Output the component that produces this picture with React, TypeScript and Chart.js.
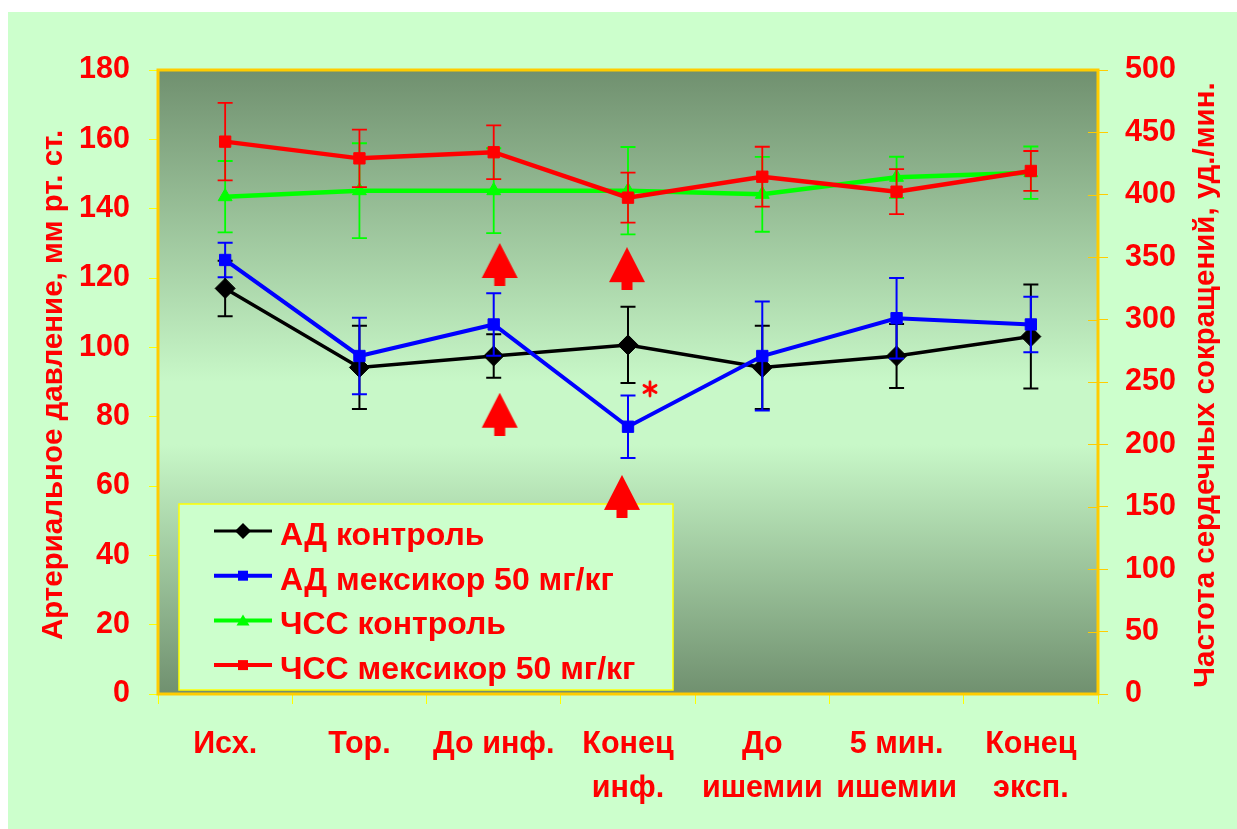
import React, { useEffect, useRef } from 'react';
import { Chart, registerables } from 'chart.js';

Chart.register(...registerables);

// ---------- data ----------
const categories: (string | string[])[] = [
  'Исх.',
  'Тор.',
  'До инф.',
  ['Конец', 'инф.'],
  ['До', 'ишемии'],
  ['5 мин.', 'ишемии'],
  ['Конец', 'эксп.'],
];

const seriesNames = [
  'АД контроль',
  'АД мексикор 50 мг/кг',
  'ЧСС контроль',
  'ЧСС мексикор 50 мг/кг',
];

// АД (left axis, мм рт. ст.)
const adControl = [117, 94.2, 97.5, 100.7, 94.2, 97.5, 103.1];
const adControlErr = [8, 12, 6.3, 11, 12, 9.2, 15];
const adMexicor = [125.2, 97.5, 106.6, 77.1, 97.5, 108.4, 106.6];
const adMexicorErr = [5, 11, 9, 9, 15.7, 11.6, 8];

// ЧСС (right axis, уд./мин.)
const hrControl = [398.5, 403.3, 403.3, 403.3, 400.4, 414, 417.7];
const hrControlErr = [28.6, 38, 34, 35, 30, 16.5, 21];
const hrMexicor = [442.6, 429.2, 434.1, 397.7, 414.5, 402.5, 419.1];
const hrMexicorErr = [31, 23, 21.5, 20, 24, 18, 16];

// significance markers (left-axis values)
const arrowsUpper = [null, null, 123.9, 122.7, null, null, null];
const arrowsLower = [null, null, 80.7, 57.0, null, null, null];
const asteriskMarks = [null, null, null, 88.0, null, null, null];

const leftTicksMax = 180;
const leftTicksStep = 20;
const rightTicksMax = 500;
const rightTicksStep = 50;

const leftTitle = 'Артериальное давление, мм рт. ст.';
const rightTitle = 'Частота сердечных сокращений, уд./мин.';

const FONT = '"Liberation Sans", Arial, sans-serif';
const RED = '#ff0000';

// ---------- marker images ----------
function makeArrow(dx: number): HTMLCanvasElement {
  const c = document.createElement('canvas');
  c.width = 40 + 2 * Math.abs(dx);
  c.height = 43;
  const ctx = c.getContext('2d')!;
  const cx = c.width / 2 + dx;
  ctx.fillStyle = RED;
  ctx.beginPath();
  ctx.moveTo(cx, 0);
  ctx.lineTo(cx + 18, 35);
  ctx.lineTo(cx + 5.5, 35);
  ctx.lineTo(cx + 5.5, 43);
  ctx.lineTo(cx - 5.5, 43);
  ctx.lineTo(cx - 5.5, 35);
  ctx.lineTo(cx - 18, 35);
  ctx.closePath();
  ctx.fill();
  return c;
}

function makeAsterisk(dx: number): HTMLCanvasElement {
  const c = document.createElement('canvas');
  c.width = 20 + 2 * Math.abs(dx);
  c.height = 20;
  const ctx = c.getContext('2d')!;
  const cx = c.width / 2 + dx;
  const cy = 10;
  ctx.strokeStyle = RED;
  ctx.lineWidth = 2.8;
  ctx.lineCap = 'round';
  for (const a of [90, 30, 150]) {
    const r = (a * Math.PI) / 180;
    ctx.beginPath();
    ctx.moveTo(cx - Math.cos(r) * 7, cy - Math.sin(r) * 7);
    ctx.lineTo(cx + Math.cos(r) * 7, cy + Math.sin(r) * 7);
    ctx.stroke();
  }
  return c;
}

// ---------- plugins ----------
const backgroundPlugin = {
  id: 'plotBackground',
  beforeDatasetsDraw(chart: any) {
    const { ctx, chartArea: a } = chart;
    const g = ctx.createLinearGradient(0, a.top, 0, a.bottom);
    g.addColorStop(0, '#70906f');
    g.addColorStop(0.5, '#c8f8c8');
    g.addColorStop(0.6, '#c8f8c8');
    g.addColorStop(1, '#70906f');
    ctx.save();
    ctx.fillStyle = g;
    ctx.fillRect(a.left, a.top, a.right - a.left, a.bottom - a.top);
    ctx.strokeStyle = '#ffcc00';
    ctx.lineWidth = 3;
    ctx.strokeRect(a.left, a.top, a.right - a.left, a.bottom - a.top);
    // right-axis tick marks crossing into the plot
    const y2 = chart.scales.y2;
    ctx.lineWidth = 1;
    ctx.beginPath();
    y2.ticks.forEach((t: any) => {
      const y = Math.round(y2.getPixelForValue(t.value)) + 0.5;
      ctx.moveTo(a.right - 10, y);
      ctx.lineTo(a.right, y);
    });
    ctx.stroke();
    ctx.restore();
  },
};

const legendPlugin = {
  id: 'insideLegend',
  beforeDatasetsDraw(chart: any) {
    const { ctx, chartArea: a } = chart;
    const bx = a.left + 21;
    const by = a.top + 434;
    const bw = 494;
    const bh = 186;
    ctx.save();
    ctx.fillStyle = '#ccffcc';
    ctx.fillRect(bx, by, bw, bh);
    ctx.strokeStyle = '#ffff00';
    ctx.lineWidth = 1.5;
    ctx.strokeRect(bx, by, bw, bh);
    const styles = [
      { color: '#000000', marker: 'diamond', lw: 3 },
      { color: '#0000ff', marker: 'square', lw: 4 },
      { color: '#00ff00', marker: 'triangle', lw: 4 },
      { color: '#ff0000', marker: 'square', lw: 4 },
    ];
    seriesNames.forEach((name, i) => {
      const base = by + 41 + i * 44.7;
      const ly = base - 14;
      const s = styles[i];
      ctx.strokeStyle = s.color;
      ctx.fillStyle = s.color;
      ctx.lineWidth = s.lw;
      ctx.beginPath();
      ctx.moveTo(bx + 35, ly);
      ctx.lineTo(bx + 93, ly);
      ctx.stroke();
      const mx = bx + 64;
      ctx.beginPath();
      if (s.marker === 'diamond') {
        ctx.moveTo(mx - 8, ly);
        ctx.lineTo(mx, ly - 8);
        ctx.lineTo(mx + 8, ly);
        ctx.lineTo(mx, ly + 8);
        ctx.closePath();
      } else if (s.marker === 'square') {
        ctx.rect(mx - 5, ly - 5, 10, 10);
      } else {
        ctx.moveTo(mx, ly - 6);
        ctx.lineTo(mx + 6.5, ly + 5);
        ctx.lineTo(mx - 6.5, ly + 5);
        ctx.closePath();
      }
      ctx.fill();
      ctx.fillStyle = RED;
      ctx.font = `bold 32px ${FONT}`;
      ctx.textBaseline = 'alphabetic';
      ctx.textAlign = 'left';
      ctx.fillText(name, bx + 101, base);
    });
    ctx.restore();
  },
};

const errorBarPlugin = {
  id: 'errorBars',
  beforeDatasetDraw(chart: any, args: any) {
    const ds = chart.data.datasets[args.index];
    if (!ds.errors) return;
    const meta = chart.getDatasetMeta(args.index);
    const scale = chart.scales[ds.yAxisID];
    const { ctx } = chart;
    ctx.save();
    ctx.strokeStyle = ds.errorColor;
    ctx.lineWidth = ds.errorWidth;
    meta.data.forEach((pt: any, j: number) => {
      const v = ds.data[j];
      const e = ds.errors[j];
      if (v == null || e == null) return;
      const x = pt.x;
      const y1 = scale.getPixelForValue(v + e);
      const y2 = scale.getPixelForValue(v - e);
      ctx.beginPath();
      ctx.moveTo(x, y1);
      ctx.lineTo(x, y2);
      ctx.moveTo(x - 7.5, y1);
      ctx.lineTo(x + 7.5, y1);
      ctx.moveTo(x - 7.5, y2);
      ctx.lineTo(x + 7.5, y2);
      ctx.stroke();
    });
    ctx.restore();
  },
};

const titlesPlugin = {
  id: 'axisTitles',
  afterDraw(chart: any) {
    const { ctx, chartArea: a } = chart;
    const cy = (a.top + a.bottom) / 2 + 3;
    ctx.save();
    ctx.fillStyle = RED;
    ctx.font = `bold 29.5px ${FONT}`;
    ctx.textAlign = 'center';
    ctx.textBaseline = 'middle';
    ctx.translate(a.left - 104, cy);
    ctx.rotate(-Math.PI / 2);
    ctx.fillText(leftTitle, 0, 0);
    ctx.restore();
    ctx.save();
    ctx.fillStyle = RED;
    ctx.font = `bold 29.5px ${FONT}`;
    ctx.textAlign = 'center';
    ctx.textBaseline = 'middle';
    ctx.translate(a.right + 108, cy);
    ctx.rotate(-Math.PI / 2);
    ctx.fillText(rightTitle, 0, 0);
    ctx.restore();
  },
};

// ---------- component ----------
export default function App() {
  const ref = useRef<HTMLCanvasElement | null>(null);

  useEffect(() => {
    if (!ref.current) return;
    const arrowRight = makeArrow(6);
    const arrowLeftSmall = makeArrow(-1);
    const arrowLeft = makeArrow(-6);
    const asterisk = makeAsterisk(22);

    const tickFont = { family: FONT, size: 30.5, weight: 'bold' as const };

    const chart = new Chart(ref.current, {
      type: 'line',
      data: {
        labels: categories as any,
        datasets: [
          {
            label: 'arrowsUpper',
            data: arrowsUpper as any,
            yAxisID: 'y',
            showLine: false,
            order: 0,
            pointRadius: 5,
            pointStyle: ((c: any) => (c.dataIndex === 2 ? arrowRight : arrowLeftSmall)) as any,
          },
          {
            label: 'arrowsLower',
            data: arrowsLower as any,
            yAxisID: 'y',
            showLine: false,
            order: 0,
            pointRadius: 5,
            pointStyle: ((c: any) => (c.dataIndex === 2 ? arrowRight : arrowLeft)) as any,
          },
          {
            label: 'asterisk',
            data: asteriskMarks as any,
            yAxisID: 'y',
            showLine: false,
            order: 0,
            pointRadius: 5,
            pointStyle: asterisk as any,
          },
          {
            label: seriesNames[3],
            data: hrMexicor,
            yAxisID: 'y2',
            order: 1,
            borderColor: '#ff0000',
            backgroundColor: '#ff0000',
            borderWidth: 4.5,
            pointStyle: 'rect',
            pointRadius: 8,
            pointBorderWidth: 1,
            tension: 0,
            errors: hrMexicorErr,
            errorColor: '#ff0000',
            errorWidth: 1.8,
          } as any,
          {
            label: seriesNames[2],
            data: hrControl,
            yAxisID: 'y2',
            order: 2,
            borderColor: '#00ff00',
            backgroundColor: '#00ff00',
            borderWidth: 4.5,
            pointStyle: 'triangle',
            pointRadius: 8,
            pointBorderWidth: 1,
            tension: 0,
            errors: hrControlErr,
            errorColor: '#00ff00',
            errorWidth: 1.8,
          } as any,
          {
            label: seriesNames[1],
            data: adMexicor,
            yAxisID: 'y',
            order: 3,
            borderColor: '#0000ff',
            backgroundColor: '#0000ff',
            borderWidth: 4,
            pointStyle: 'rect',
            pointRadius: 8,
            pointBorderWidth: 1,
            tension: 0,
            errors: adMexicorErr,
            errorColor: '#0000ff',
            errorWidth: 2,
          } as any,
          {
            label: seriesNames[0],
            data: adControl,
            yAxisID: 'y',
            order: 4,
            borderColor: '#000000',
            backgroundColor: '#000000',
            borderWidth: 3.5,
            pointStyle: 'rectRot',
            pointRadius: 10,
            pointBorderWidth: 1,
            tension: 0,
            errors: adControlErr,
            errorColor: '#000000',
            errorWidth: 2,
          } as any,
        ],
      },
      options: {
        responsive: false,
        animation: false,
        events: [],
        layout: { padding: { top: 58, left: 0, right: 0, bottom: 0 } },
        plugins: {
          legend: { display: false },
          tooltip: { enabled: false },
        },
        scales: {
          x: {
            type: 'category',
            offset: true,
            grid: {
              offset: true,
              drawOnChartArea: false,
              tickLength: 10,
              tickColor: '#ffff00',
              tickWidth: 1,
            },
            border: { display: false },
            ticks: {
              color: RED,
              font: { ...tickFont, lineHeight: 44 / 30.5 },
              padding: 19,
              maxRotation: 0,
              minRotation: 0,
              autoSkip: false,
            },
            afterFit: (s: any) => {
              s.height = 135;
            },
          },
          y: {
            position: 'left',
            min: 0,
            max: leftTicksMax,
            grid: {
              drawOnChartArea: false,
              tickLength: 9,
              tickColor: '#ffff00',
              tickWidth: 1,
            },
            border: { display: false },
            ticks: {
              stepSize: leftTicksStep,
              color: RED,
              font: tickFont,
              padding: 19,
            },
            afterFit: (s: any) => {
              s.width = 150;
            },
          },
          y2: {
            position: 'right',
            min: 0,
            max: rightTicksMax,
            grid: {
              drawOnChartArea: false,
              tickLength: 10,
              tickColor: '#ffcc00',
              tickWidth: 1,
            },
            border: { display: false },
            ticks: {
              stepSize: rightTicksStep,
              color: RED,
              font: tickFont,
              padding: 17,
            },
            afterFit: (s: any) => {
              s.width = 139;
            },
          },
        },
      } as any,
      plugins: [backgroundPlugin, legendPlugin, errorBarPlugin, titlesPlugin],
    });

    return () => {
      chart.destroy();
    };
  }, []);

  return (
    <div
      style={{
        position: 'absolute',
        left: 8,
        top: 12,
        width: 1229,
        height: 817,
        background: '#ccffcc',
      }}
    >
      <canvas ref={ref} width={1229} height={817} style={{ display: 'block' }} />
    </div>
  );
}
